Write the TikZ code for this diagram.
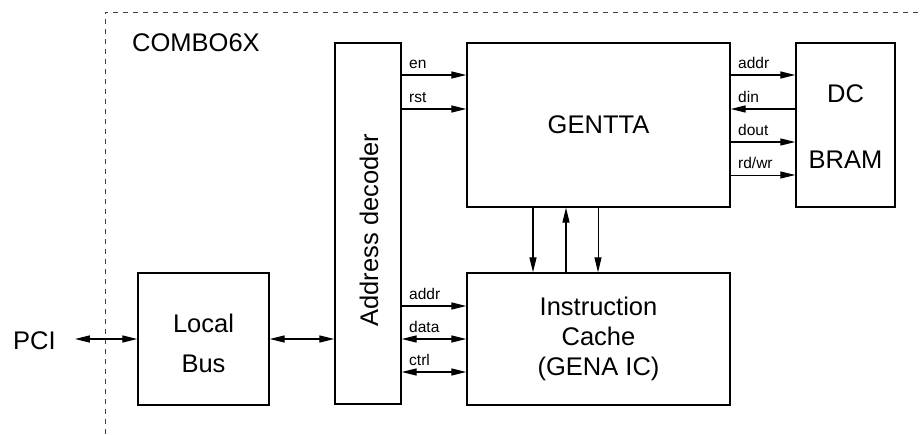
\documentclass[tikz,border=0pt]{standalone}
\usepackage{fontspec}
\setmainfont{Liberation Sans}
\usetikzlibrary{arrows.meta}
\begin{document}
\begin{tikzpicture}[x=1pt,y=-1pt,
  blk/.style={draw, line width=1.4pt, inner sep=0pt},
  big/.style={font=\fontsize{25.5}{30}\selectfont, inner sep=0pt, align=center},
  lbl/.style={font=\fontsize{15.5}{18}\selectfont, inner sep=0pt, anchor=base west},
  sig/.style={line width=1.3pt, -{Triangle[length=15pt,width=7pt]}},
  thin/.style={line width=0.9pt, -{Triangle[length=15pt,width=7pt]}},
  dsig/.style={line width=1.3pt, {Triangle[length=15pt,width=7pt]}-{Triangle[length=15pt,width=7pt]}},
  border/.style={line width=0.8pt, black!75, dash pattern=on 5pt off 5pt}]
\useasboundingbox (0,0) rectangle (920,434);
% dashed frame
\coordinate (fa) at (105,434);
\coordinate (fb) at (105,12);
\coordinate (fc) at (920,12);
\draw[border] (fa) -- (fb) -- (fc);
\node[big, anchor=base west] (combo) at (132,51) {COMBO6X};
% blocks
\node[blk, minimum width=66pt, minimum height=361pt] (ad) at (368,223.5) {};
\node[big, rotate=90] (adt) at (369,230) {Address decoder};
\node[blk, minimum width=263pt, minimum height=164pt] (gen) at (598.5,125) {};
\node[big, anchor=base] (gent) at (598.5,133) {GENTTA};
\node[blk, minimum width=99pt, minimum height=164pt] (dc) at (845.5,125) {};
\node[big, anchor=base] (dct) at (845.5,102) {DC};
\node[big, anchor=base] (brt) at (845.5,168) {BRAM};
\node[blk, minimum width=263pt, minimum height=132pt] (ic) at (598.5,339) {};
\node[big, anchor=base] (ict1) at (598.5,315) {Instruction};
\node[big, anchor=base] (ict2) at (598.5,345) {Cache};
\node[big, anchor=base] (ict3) at (598.5,375) {(GENA IC)};
\node[blk, minimum width=131pt, minimum height=132pt] (lb) at (203.5,339) {};
\node[big, anchor=base] (lbt1) at (203.5,332) {Local};
\node[big, anchor=base] (lbt2) at (203.5,372) {Bus};
\node[big, anchor=base west] (pci) at (13,349) {PCI};
% PCI and local bus
\draw[dsig] ([xshift=19pt]pci.east |- lb.west) -- (lb.west);
\draw[dsig] (lb.east) -- (ad.west |- lb.east);
% address decoder to GENTTA
\draw[sig] (ad.east |- 0,75) -- (gen.west |- 0,75);
\draw[sig] (ad.east |- 0,109) -- (gen.west |- 0,109);
\node[lbl] (len) at (409,68) {en};
\node[lbl] (lrst) at (409,102) {rst};
% address decoder to IC
\draw[sig] (ad.east |- 0,306) -- (ic.west |- 0,306);
\draw[dsig] (ad.east |- 0,339) -- (ic.west |- 0,339);
\draw[dsig] (ad.east |- 0,372) -- (ic.west |- 0,372);
\node[lbl] (laddr) at (409,299) {addr};
\node[lbl] (ldata) at (409,332) {data};
\node[lbl] (lctrl) at (409,365) {ctrl};
% GENTTA to DC BRAM
\draw[sig] (gen.east |- 0,75) -- (dc.west |- 0,75);
\draw[sig] (dc.west |- 0,109) -- (gen.east |- 0,109);
\draw[sig] (gen.east |- 0,142) -- (dc.west |- 0,142);
\draw[thin] (gen.east |- 0,175) -- (dc.west |- 0,175);
\node[lbl] (laddr2) at (738,68) {addr};
\node[lbl] (ldin) at (738,102) {din};
\node[lbl] (ldout) at (738,135) {dout};
\node[lbl] (lrdwr) at (738,168) {rd/wr};
% GENTTA <-> IC
\draw[sig] (gen.south -| 533,0) -- (ic.north -| 533,0);
\draw[sig] (ic.north -| 566,0) -- (gen.south -| 566,0);
\draw[thin] (gen.south -| 598,0) -- (ic.north -| 598,0);
\end{tikzpicture}
\end{document}
